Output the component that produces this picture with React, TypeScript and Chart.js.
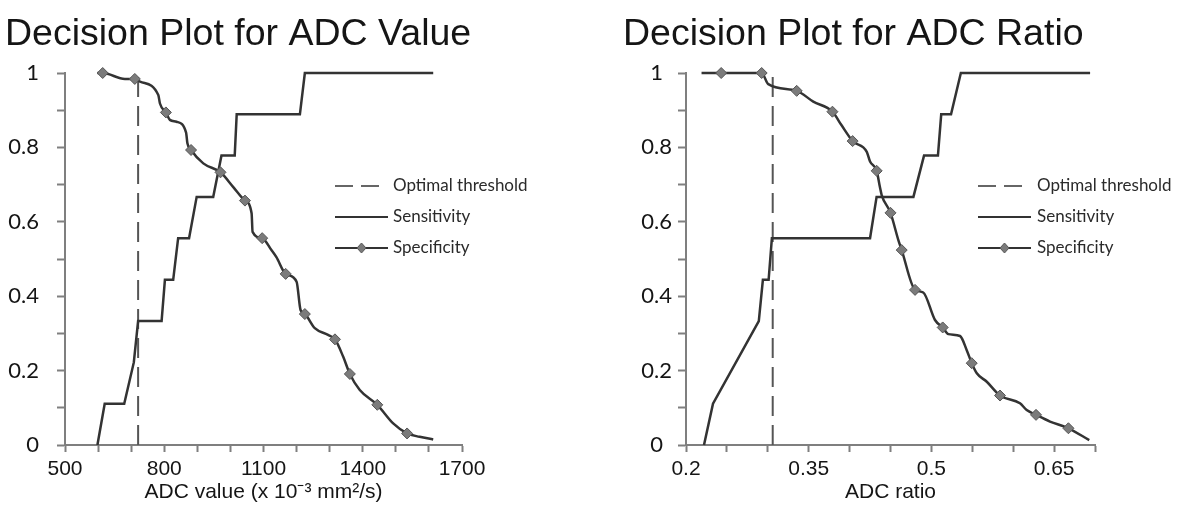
import React, { useEffect, useRef } from "react";
import { Chart, registerables } from "chart.js";

Chart.register(...registerables);

// ---------- data ----------
const yTickLabels = [0, 0.2, 0.4, 0.6, 0.8, 1];
const legendLabels = ["Optimal threshold", "Sensitivity", "Specificity"];

// ADC value panel
const valueTickLabels = [500, 800, 1100, 1400, 1700];
const valueThreshold = 721;
const valueSensX = [598, 620, 679, 708, 721, 792, 802, 827, 842, 875, 898, 948, 973, 1013, 1019, 1210, 1225, 1613];
const valueSensY = [0, 0.111, 0.111, 0.222, 0.333, 0.333, 0.444, 0.444, 0.556, 0.556, 0.667, 0.667, 0.778, 0.778, 0.889, 0.889, 1, 1];
const valueSpecX = [598, 614, 681, 711, 727, 782, 787, 805, 817, 837, 866, 870, 881, 918, 970, 1008, 1044, 1064, 1067, 1096, 1124, 1139, 1167, 1200, 1212, 1225, 1255, 1295, 1316, 1341, 1361, 1391, 1444, 1492, 1534, 1572, 1613];
const valueSpecY = [1, 1, 0.984, 0.984, 0.977, 0.941, 0.918, 0.894, 0.874, 0.869, 0.84, 0.811, 0.793, 0.757, 0.733, 0.694, 0.657, 0.623, 0.573, 0.556, 0.524, 0.505, 0.46, 0.439, 0.363, 0.352, 0.314, 0.296, 0.284, 0.237, 0.191, 0.148, 0.108, 0.058, 0.031, 0.022, 0.015];
const valueMarkX = [614, 711, 805, 881, 970, 1044, 1096, 1167, 1225, 1316, 1361, 1444, 1534];
const valueMarkY = [1, 0.984, 0.894, 0.793, 0.733, 0.657, 0.556, 0.46, 0.352, 0.284, 0.191, 0.108, 0.031];

// ADC ratio panel
const ratioTickLabels = [0.2, 0.35, 0.5, 0.65];
const ratioThreshold = 0.306;
const ratioSensX = [0.222, 0.233, 0.289, 0.294, 0.301, 0.305, 0.425, 0.433, 0.478, 0.491, 0.508, 0.512, 0.524, 0.536, 0.694];
const ratioSensY = [0, 0.111, 0.333, 0.444, 0.444, 0.556, 0.556, 0.667, 0.667, 0.778, 0.778, 0.889, 0.889, 1, 1];
const ratioSpecX = [0.219, 0.243, 0.2925, 0.3006, 0.3353, 0.3556, 0.379, 0.39, 0.4037, 0.421, 0.425, 0.4331, 0.437, 0.4392, 0.45, 0.4596, 0.4637, 0.48, 0.49, 0.5044, 0.5138, 0.5207, 0.535, 0.5432, 0.5493, 0.5555, 0.5677, 0.5839, 0.6083, 0.6165, 0.6279, 0.645, 0.6675, 0.693];
const ratioSpecY = [1, 1, 1, 0.97, 0.952, 0.923, 0.896, 0.86, 0.817, 0.788, 0.762, 0.737, 0.694, 0.672, 0.624, 0.551, 0.524, 0.417, 0.41, 0.336, 0.316, 0.298, 0.293, 0.255, 0.22, 0.193, 0.17, 0.133, 0.112, 0.094, 0.081, 0.063, 0.045, 0.013];
const ratioMarkX = [0.243, 0.2925, 0.3353, 0.379, 0.4037, 0.4331, 0.45, 0.4637, 0.48, 0.5138, 0.5493, 0.5839, 0.6279, 0.6675];
const ratioMarkY = [1, 1, 0.952, 0.896, 0.817, 0.737, 0.624, 0.524, 0.417, 0.316, 0.22, 0.133, 0.081, 0.045];

// ---------- styling ----------
const AXIS = "#7f7f7f";
const LINE = "#333333";
const TEXT = "#151515";

type PanelCfg = {
  left: number;
  title: string;
  titleX: number;
  xTitle: string;
  xMin: number;
  xMax: number;
  xStep: number;
  xLabels: number[];
  threshold: number;
  sensX: number[];
  sensY: number[];
  specX: number[];
  specY: number[];
  markX: number[];
  markY: number[];
  padL: number;
  padR: number;
  yW: number;
  yPad: number;
  yCross: "near" | "center";
  legendX: number;
  legendTextX: number;
};

const pts = (xs: number[], ys: number[]) => xs.map((x, i) => ({ x, y: ys[i] }));

function Panel({ cfg }: { cfg: PanelCfg }) {
  const ref = useRef<HTMLCanvasElement>(null);
  useEffect(() => {
    const canvas = ref.current;
    if (!canvas) return;
    const decor = {
      id: "decor",
      afterDraw(chart: any) {
        const ctx = chart.ctx as CanvasRenderingContext2D;
        ctx.save();
        ctx.font = '37.5px "Liberation Sans", Arial, sans-serif';
        ctx.fillStyle = TEXT;
        ctx.textAlign = "left";
        ctx.textBaseline = "alphabetic";
        ctx.fillText(cfg.title, cfg.titleX, 45);

        ctx.font = '17px Lato, "Open Sans", sans-serif';
        ctx.textBaseline = "middle";
        legendLabels.forEach((label, i) => {
          const y = 186 + i * 31;
          ctx.lineWidth = 2;
          ctx.beginPath();
          if (i === 0) {
            ctx.strokeStyle = "#666666";
            ctx.setLineDash([18, 8]);
            ctx.moveTo(cfg.legendX, y);
            ctx.lineTo(cfg.legendX + 45, y);
          } else {
            ctx.strokeStyle = LINE;
            ctx.setLineDash([]);
            ctx.moveTo(cfg.legendX, y);
            ctx.lineTo(cfg.legendX + 53, y);
          }
          ctx.stroke();
          ctx.setLineDash([]);
          if (i === 2) {
            const cx = cfg.legendX + 26.5;
            ctx.beginPath();
            ctx.moveTo(cx, y - 5);
            ctx.lineTo(cx + 4.5, y);
            ctx.lineTo(cx, y + 5);
            ctx.lineTo(cx - 4.5, y);
            ctx.closePath();
            ctx.fillStyle = "#7b7b7b";
            ctx.fill();
            ctx.strokeStyle = "#555";
            ctx.lineWidth = 1;
            ctx.stroke();
          }
          ctx.fillStyle = "#2a2a2a";
          ctx.fillText(label, cfg.legendTextX, y);
        });
        ctx.restore();
      },
    };

    const chart = new Chart(canvas, {
      type: "line",
      data: {
        datasets: [
          {
            label: "Specificity markers",
            data: pts(cfg.markX, cfg.markY),
            showLine: false,
            pointStyle: "rectRot",
            pointRadius: 5.5,
            pointBackgroundColor: "#7b7b7b",
            pointBorderColor: "#555555",
            pointBorderWidth: 1,
            clip: false,
            order: 0,
          } as any,
          {
            label: "Specificity",
            data: pts(cfg.specX, cfg.specY),
            borderColor: LINE,
            borderWidth: 2.5,
            pointRadius: 0,
            cubicInterpolationMode: "monotone",
            clip: false,
            order: 1,
          },
          {
            label: "Sensitivity",
            data: pts(cfg.sensX, cfg.sensY),
            borderColor: LINE,
            borderWidth: 2.5,
            pointRadius: 0,
            tension: 0,
            clip: false,
            order: 2,
          },
          {
            label: "Optimal threshold",
            data: [
              { x: cfg.threshold, y: 0 },
              { x: cfg.threshold, y: 1 },
            ],
            borderColor: "#555555",
            borderWidth: 2,
            borderDash: [20, 9],
            pointRadius: 0,
            clip: false,
            order: 3,
          },
        ],
      },
      options: {
        animation: false,
        responsive: false,
        events: [],
        layout: { padding: { left: cfg.padL, right: cfg.padR, top: 73, bottom: 0 } },
        plugins: {
          legend: { display: false },
          tooltip: { enabled: false },
          title: { display: false },
        },
        scales: {
          x: {
            type: "linear",
            min: cfg.xMin,
            max: cfg.xMax,
            afterFit: (s: any) => {
              s.height = 72;
            },
            border: { display: true, color: AXIS, width: 2 },
            grid: { drawOnChartArea: false, drawTicks: true, tickLength: 7, color: AXIS, tickWidth: 2 },
            ticks: {
              stepSize: cfg.xStep,
              autoSkip: false,
              maxRotation: 0,
              padding: 5,
              color: TEXT,
              font: { family: '"Liberation Sans", Arial, sans-serif', size: 21 },
              callback: (v: any) => {
                const hit = cfg.xLabels.find((t) => Math.abs(t - Number(v)) < 1e-6);
                return hit === undefined ? "" : String(hit);
              },
            },
            title: {
              display: true,
              text: cfg.xTitle,
              color: TEXT,
              font: { family: '"Liberation Sans", Arial, sans-serif', size: 21 },
              padding: { top: 0, bottom: 12 },
            },
          },
          y: {
            min: 0,
            max: 1,
            afterFit: (s: any) => {
              s.width = cfg.yW;
            },
            border: { display: true, color: AXIS, width: 2 },
            grid: { drawOnChartArea: false, drawTicks: true, tickLength: 8, color: AXIS, tickWidth: 2 },
            ticks: {
              stepSize: 0.1,
              padding: cfg.yPad,
              crossAlign: cfg.yCross,
              color: TEXT,
              font: { family: 'Lato, "Open Sans", sans-serif', size: 22 },
              callback: (v: any) => {
                const hit = yTickLabels.find((t) => Math.abs(t - Number(v)) < 1e-6);
                return hit === undefined ? "" : String(hit);
              },
            },
          },
        },
      } as any,
      plugins: [decor],
    });
    return () => chart.destroy();
  }, [cfg]);
  return (
    <canvas
      ref={ref}
      width={592}
      height={517}
      style={{ position: "absolute", left: cfg.left, top: 0, width: 592, height: 517 }}
    />
  );
}

const valuePanel: PanelCfg = {
  left: 0,
  title: "Decision Plot for ADC Value",
  titleX: 5,
  xTitle: "ADC value (x 10\u207B\u00B3 mm\u00B2/s)",
  xMin: 500,
  xMax: 1700,
  xStep: 100,
  xLabels: valueTickLabels,
  threshold: valueThreshold,
  sensX: valueSensX,
  sensY: valueSensY,
  specX: valueSpecX,
  specY: valueSpecY,
  markX: valueMarkX,
  markY: valueMarkY,
  padL: 8,
  padR: 130,
  yW: 57,
  yPad: 18,
  yCross: "near",
  legendX: 335,
  legendTextX: 393,
};

const ratioPanel: PanelCfg = {
  left: 592,
  title: "Decision Plot for ADC Ratio",
  titleX: 31,
  xTitle: "ADC ratio",
  xMin: 0.2,
  xMax: 0.7,
  xStep: 0.05,
  xLabels: ratioTickLabels,
  threshold: ratioThreshold,
  sensX: ratioSensX,
  sensY: ratioSensY,
  specX: ratioSpecX,
  specY: ratioSpecY,
  markX: ratioMarkX,
  markY: ratioMarkY,
  padL: 34,
  padR: 89,
  yW: 60,
  yPad: 6,
  yCross: "center",
  legendX: 386,
  legendTextX: 445,
};

export default function App() {
  return (
    <div
      style={{
        position: "absolute",
        left: 0,
        top: 0,
        width: 1184,
        height: 517,
        background: "#ffffff",
        overflow: "hidden",
      }}
    >
      <Panel cfg={valuePanel} />
      <Panel cfg={ratioPanel} />
    </div>
  );
}
